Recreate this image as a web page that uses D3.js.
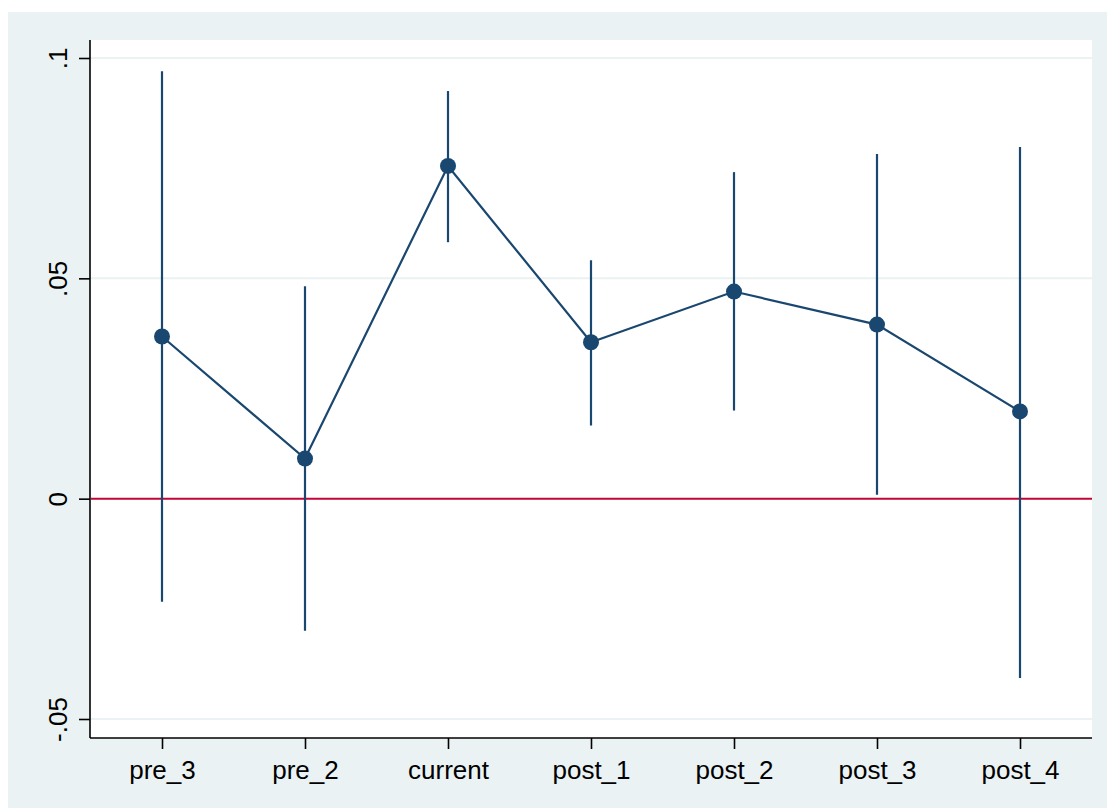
<!DOCTYPE html>
<html>
<head>
<meta charset="utf-8">
<script src="https://cdn.jsdelivr.net/npm/d3@7"></script>
<style>
  html, body { margin: 0; padding: 0; background: #ffffff; }
  svg { display: block; }
  text { font-family: "Liberation Sans", Arial, sans-serif; fill: #000; }
</style>
</head>
<body>
<svg id="chart" width="1107" height="810"></svg>
<script>
// Event-study coefficients with confidence intervals
const categories = ["pre_3", "pre_2", "current", "post_1", "post_2", "post_3", "post_4"];
const estimates  = [0.0368, 0.0091, 0.0755, 0.0355, 0.0470, 0.0395, 0.0198];
const ciLower    = [-0.0234, -0.0300, 0.0582, 0.0166, 0.0200, 0.0009, -0.0407];
const ciUpper    = [0.0970, 0.0482, 0.0925, 0.0541, 0.0741, 0.0782, 0.0798];
const yTicks     = [-0.05, 0, 0.05, 0.1];
const yTickLabels = ["-.05", "0", ".05", ".1"];

const data = categories.map((c, i) => ({ cat: c, est: estimates[i], lo: ciLower[i], hi: ciUpper[i] }));

const svg = d3.select("#chart");
const W = 1107, H = 810;
const plot = { left: 90, right: 1092, top: 40, bottom: 738 };

const navy = "#1a476f";
const red = "#c10534";
const bg = "#eaf2f3";

// outer graph region
svg.append("rect").attr("x", 8).attr("y", 12).attr("width", W - 8).attr("height", 796).attr("fill", bg);
// plot region
svg.append("rect").attr("x", plot.left).attr("y", plot.top)
  .attr("width", plot.right - plot.left).attr("height", plot.bottom - plot.top).attr("fill", "#fff");

const x = d3.scalePoint().domain(categories).range([162, 1020]);
const y = d3.scaleLinear().domain([-0.05, 0.1]).range([719, 58]);

// gridlines
svg.append("g").selectAll("line").data(yTicks.filter(t => t !== 0)).join("line")
  .attr("x1", plot.left).attr("x2", plot.right)
  .attr("y1", d => y(d)).attr("y2", d => y(d))
  .attr("stroke", bg).attr("stroke-width", 2);

// zero reference line
svg.append("line")
  .attr("x1", plot.left + 1).attr("x2", plot.right)
  .attr("y1", y(0)).attr("y2", y(0))
  .attr("stroke", red).attr("stroke-width", 2);

// y axis
const yAxis = d3.axisLeft(y).tickValues(yTicks)
  .tickFormat((d, i) => yTickLabels[i]).tickSize(11).tickPadding(0);
const gy = svg.append("g").attr("transform", `translate(${plot.left},0)`).call(yAxis);
gy.select(".domain").attr("d", `M0,${plot.top}V${plot.bottom}`).attr("stroke", "#000").attr("stroke-width", 1.6);
gy.selectAll(".tick line").attr("stroke", "#000").attr("stroke-width", 1.6);
gy.selectAll(".tick text")
  .attr("font-size", 26)
  .attr("font-family", "Liberation Sans, Arial, sans-serif")
  .attr("fill", "#000")
  .attr("text-anchor", "middle")
  .attr("x", 0).attr("dy", 0)
  .attr("transform", "translate(-23,0) rotate(-90)")
  .attr("y", 0);

// x axis
const xAxis = d3.axisBottom(x).tickSize(11).tickPadding(12);
const gx = svg.append("g").attr("transform", `translate(0,${plot.bottom})`).call(xAxis);
gx.select(".domain").attr("d", `M${plot.left},0H${plot.right}`).attr("stroke", "#000").attr("stroke-width", 1.6);
gx.selectAll(".tick line").attr("stroke", "#000").attr("stroke-width", 1.6);
gx.selectAll(".tick text")
  .attr("font-size", 26)
  .attr("font-family", "Liberation Sans, Arial, sans-serif")
  .attr("fill", "#000");

// confidence intervals
svg.append("g").selectAll("line").data(data).join("line")
  .attr("x1", d => x(d.cat)).attr("x2", d => x(d.cat))
  .attr("y1", d => y(d.lo)).attr("y2", d => y(d.hi))
  .attr("stroke", navy).attr("stroke-width", 2.2);

// connecting line
svg.append("path").datum(data)
  .attr("d", d3.line().x(d => x(d.cat)).y(d => y(d.est)))
  .attr("fill", "none").attr("stroke", navy).attr("stroke-width", 2.2);

// point estimates
svg.append("g").selectAll("circle").data(data).join("circle")
  .attr("cx", d => x(d.cat)).attr("cy", d => y(d.est)).attr("r", 8)
  .attr("fill", navy);
</script>
</body>
</html>
